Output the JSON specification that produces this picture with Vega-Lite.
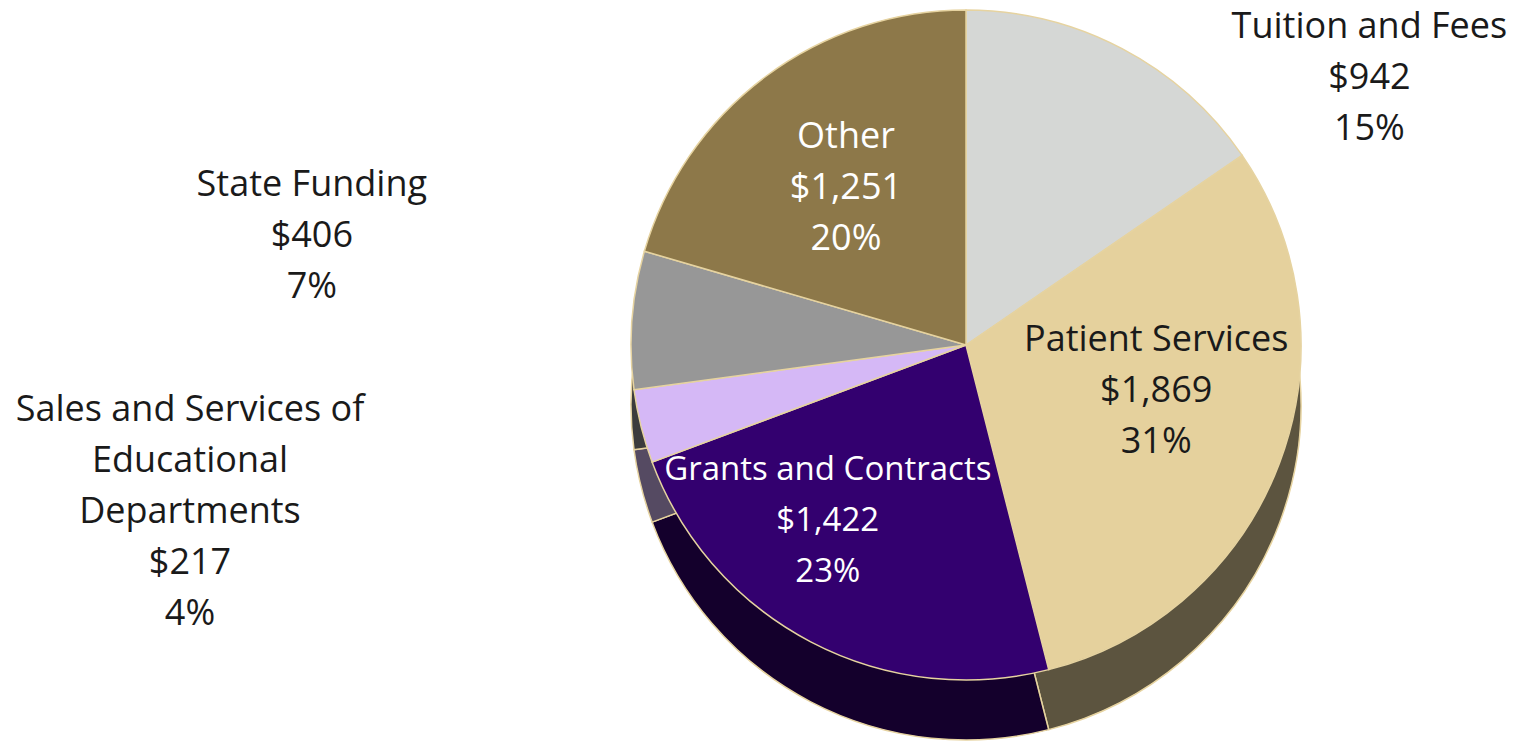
{
  "$schema": "https://vega.github.io/schema/vega-lite/v6.json",
  "width": 1104,
  "height": 690,
  "autosize": {"type": "none"},
  "padding": {"left": 414, "top": 0, "right": 0, "bottom": 58},
  "background": "white",
  "view": {"stroke": null},
  "data": {
    "values": [
      {"rank": 1, "category": "Tuition and Fees", "amount": 942, "label": "Tuition and Fees\n$942\n15%"},
      {"rank": 2, "category": "Patient Services", "amount": 1869, "label": "Patient Services\n$1,869\n31%"},
      {"rank": 3, "category": "Grants and Contracts", "amount": 1422, "label": "Grants and Contracts\n$1,422\n23%"},
      {"rank": 4, "category": "Sales and Services of Educational Departments", "amount": 217, "label": "Sales and Services of\nEducational\nDepartments\n$217\n4%"},
      {"rank": 5, "category": "State Funding", "amount": 406, "label": "State Funding\n$406\n7%"},
      {"rank": 6, "category": "Other", "amount": 1251, "label": "Other\n$1,251\n20%"}
    ]
  },
  "encoding": {
    "theta": {"field": "amount", "type": "quantitative", "stack": true},
    "order": {"field": "rank", "type": "quantitative", "sort": "ascending"}
  },
  "layer": [
    {
      "mark": {"type": "arc", "outerRadius": 335, "yOffset": 60, "stroke": null},
      "encoding": {
        "color": {
          "field": "category", "type": "nominal", "legend": null,
          "scale": {
            "domain": ["Tuition and Fees", "Patient Services", "Grants and Contracts", "Sales and Services of Educational Departments", "State Funding", "Other"],
            "range": ["#d5d7d5", "#e5d19d", "#33006f", "#d5b8f6", "#979797", "#8d7849"]
          }
        }
      }
    },
    {
      "mark": {"type": "arc", "outerRadius": 335, "yOffset": 60, "fill": "black", "fillOpacity": 0.6, "stroke": "#e6d3a0", "strokeWidth": 1.5},
      "encoding": {}
    },
    {
      "mark": {"type": "arc", "outerRadius": 335, "stroke": "#e6d3a0", "strokeWidth": 1.5},
      "encoding": {
        "color": {"field": "category", "type": "nominal", "legend": null}
      }
    },
    {
      "mark": {"type": "text", "font": "Open Sans", "fontSize": 36, "lineHeight": 51, "lineBreak": "\n", "radius": 200, "dy": -48, "color": "white"},
      "encoding": {"text": {"condition": {"test": "datum.category == 'Other'", "field": "label"}, "value": ""}}
    },
    {
      "mark": {"type": "text", "font": "Open Sans", "fontSize": 36, "lineHeight": 51, "lineBreak": "\n", "radius": 200, "dx": 3, "dy": -75, "color": "#1a1a1a"},
      "encoding": {"text": {"condition": {"test": "datum.category == 'Patient Services'", "field": "label"}, "value": ""}}
    },
    {
      "mark": {"type": "text", "font": "Open Sans", "fontSize": 33, "lineHeight": 51, "lineBreak": "\n", "radius": 186, "dx": -52, "dy": -40, "color": "white"},
      "encoding": {"text": {"condition": {"test": "datum.category == 'Grants and Contracts'", "field": "label"}, "value": ""}}
    },
    {
      "mark": {"type": "text", "font": "Open Sans", "fontSize": 36, "lineHeight": 51, "lineBreak": "\n", "radius": 340, "dx": 245, "dy": -17, "color": "#1a1a1a"},
      "encoding": {"text": {"condition": {"test": "datum.category == 'Tuition and Fees'", "field": "label"}, "value": ""}}
    },
    {
      "mark": {"type": "text", "font": "Open Sans", "fontSize": 36, "lineHeight": 51, "lineBreak": "\n", "radius": 656, "dy": -111, "color": "#1a1a1a"},
      "encoding": {"text": {"condition": {"test": "datum.category == 'State Funding'", "field": "label"}, "value": ""}}
    },
    {
      "mark": {"type": "text", "font": "Open Sans", "fontSize": 36, "lineHeight": 51, "lineBreak": "\n", "radius": 800, "dy": -130, "color": "#1a1a1a"},
      "encoding": {"text": {"condition": {"test": "datum.category == 'Sales and Services of Educational Departments'", "field": "label"}, "value": ""}}
    }
  ]
}
